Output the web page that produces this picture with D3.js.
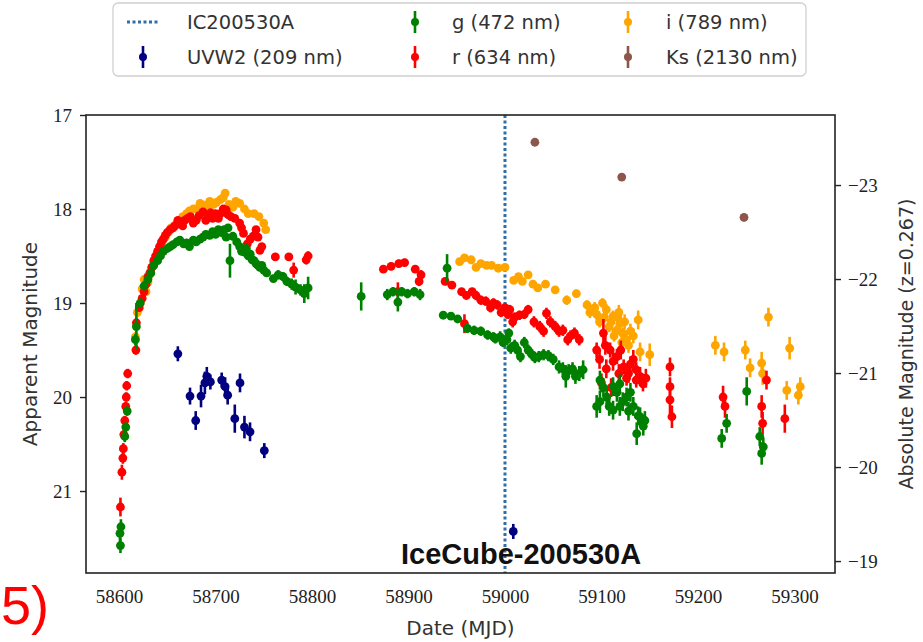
<!DOCTYPE html>
<html><head><meta charset="utf-8">
<script src="https://cdn.jsdelivr.net/npm/d3@7"></script>
<style>body{margin:0;background:#fff}svg{display:block}</style>
</head><body><svg id="c" width="923" height="642"></svg>
<script>
// ---------- data: [MJD, apparent magnitude, error] ----------
const uvw2 = [[58661,19.54,0.08],[58673.6,19.99,0.09],[58679.5,20.25,0.1],[58685,19.99,0.12],[58689,19.85,0.12],
 [58691,19.78,0.1],[58694.7,19.84,0.08],[58706.4,19.82,0.08],[58710,19.89,0.1],[58712.6,19.98,0.1],[58720,20.23,0.15],
 [58725.4,19.85,0.1],[58730,20.32,0.12],[58735.8,20.37,0.1],[58750.6,20.57,0.08],[59008.6,21.43,0.08]];
const gBand = [[58601,21.45,0.1],[58601.5,21.58,0.08],[58602,21.38,0.08],[58606,20.42,0.06],[58607,20.32,0.05],[58608.5,20.15,0.05],
 [58617,19.39,0.06],[58618,19.25,0.25],[58633,18.68,0.03],[58640,18.55,0.03],[58646,18.45,0.03],[58653,18.4,0.03],[58660,18.35,0.03],
 [58667,18.37,0.03],[58673,18.4,0.03],[58680,18.35,0.03],[58687,18.3,0.03],[58694,18.28,0.03],[58700,18.27,0.03],[58706,18.25,0.03],
 [58713,18.2,0.03],[58718,18.29,0.03],[58715,18.55,0.18],[58725,18.4,0.03],[58730,18.46,0.03],[58734,18.5,0.03],[58738,18.54,0.03],
 [58742,18.58,0.03],[58746,18.62,0.03],[58750,18.65,0.03],[58760,18.74,0.04],[58765,18.7,0.05],[58770,18.72,0.05],[58774,18.77,0.05],
 [58779,18.8,0.06],[58783,18.83,0.08],[58788,18.86,0.06],[58792,18.9,0.1],[58796,18.84,0.12],
 [58622,19.0,0.05],[58626,18.82,0.04],[58630,18.75,0.03],[58636,18.6,0.03],[58643,18.5,0.03],[58650,18.42,0.03],[58656,18.38,0.03],
 [58663,18.33,0.03],[58670,18.36,0.03],[58677,18.33,0.03],[58684,18.32,0.03],[58690,18.27,0.03],[58697,18.24,0.03],[58703,18.22,0.03],
 [58709,18.22,0.03],[58711,18.3,0.03],[58722,18.35,0.03],[58727,18.45,0.03],[58732,18.42,0.03],[58736,18.48,0.03],[58740,18.55,0.03],
 [58744,18.6,0.03],[58748,18.6,0.03],[58753,18.68,0.03],
 [58851,18.93,0.15],[58878,18.91,0.06],[58884,18.88,0.05],[58889,18.99,0.1],[58893,18.88,0.05],[58899,18.9,0.05],[58906,18.88,0.05],
 [58912,18.91,0.06],[58940,18.63,0.15],[58936,19.13,0.04],[58944,19.14,0.04],[58951,19.17,0.04],[58961,19.27,0.05],[58968,19.29,0.05],
 [58975,19.3,0.05],[58982,19.34,0.05],[58988,19.36,0.05],[58995,19.36,0.06],[59002,19.39,0.06],[59010,19.45,0.06],[59016,19.57,0.06],
 [59020,19.42,0.06],[59028,19.55,0.06],[59035,19.57,0.06],[59045,19.56,0.06],[59056,19.68,0.07],[59063,19.78,0.12],[59070,19.7,0.07],
 [59077,19.75,0.08],[58990,19.38,0.05],[58998,19.42,0.05],[59004,19.32,0.05],[59006,19.48,0.06],[59013,19.5,0.06],[59024,19.5,0.06],
 [59031,19.58,0.06],[59040,19.55,0.06],[59050,19.6,0.06],[59060,19.7,0.07],[59066,19.72,0.07],[59073,19.78,0.08],
 [59081,19.71,0.1],[59098.4,19.82,0.1],[59098.4,20.05,0.12],[59095,20.1,0.12],[59105.4,20.0,0.1],[59112,19.89,0.1],
 [59112,20.14,0.1],[59119,20.1,0.1],[59126,20.0,0.1],[59133,20.1,0.1],[59136.5,20.39,0.12],[59143.3,20.31,0.1],[59140,20.21,0.1],
 [59119,19.86,0.1],[59102,19.9,0.1],[59108,20.1,0.1],[59116,19.95,0.1],[59122,20.05,0.1],[59128,20.15,0.1],[59130,19.95,0.1],
 [59138,20.2,0.1],[59145,20.25,0.1],
 [59224.6,20.44,0.1],[59229.7,20.28,0.1],[59250.5,19.94,0.15],[59264,20.42,0.1],[59267.7,20.53,0.1],[59266,20.6,0.12]];
const rBand = [[58601.5,21.17,0.1],[58603,20.8,0.08],[58604,20.65,0.06],[58604.5,20.55,0.06],[58605,20.4,0.05],[58606,20.25,0.05],
 [58607,20.1,0.05],[58607.5,20.0,0.05],[58608,19.88,0.05],[58609,19.75,0.05],[58617.5,19.5,0.05],[58618,19.21,0.05],
 [58624,18.95,0.03],[58628,18.8,0.03],[58632,18.68,0.03],[58636,18.55,0.03],[58640,18.45,0.03],[58644,18.35,0.03],[58648,18.28,0.03],
 [58653,18.22,0.03],[58658,18.18,0.03],[58663,18.15,0.03],[58668,18.12,0.03],[58674,18.08,0.03],[58680,18.12,0.03],[58687,18.03,0.03],
 [58692,18.08,0.03],[58697,18.1,0.03],[58700,18.05,0.03],[58705,18.05,0.03],[58711,18.01,0.03],[58716,18.08,0.03],[58725,18.15,0.03],
 [58729,18.26,0.03],[58733,18.37,0.03],[58739,18.29,0.03],[58742,18.22,0.03],[58746,18.44,0.03],
 [58621,19.05,0.04],[58626,18.88,0.03],[58630,18.72,0.03],[58634,18.62,0.03],[58638,18.5,0.03],[58642,18.4,0.03],[58646,18.32,0.03],
 [58650,18.25,0.03],[58656,18.2,0.03],[58661,18.12,0.03],[58666,18.18,0.03],[58671,18.1,0.03],[58677,18.15,0.03],[58683,18.07,0.03],
 [58690,18.12,0.03],[58695,18.04,0.03],[58703,18.1,0.03],[58708,18.0,0.03],[58713,18.06,0.03],[58720,18.1,0.03],[58727,18.2,0.03],
 [58736,18.32,0.03],[58744,18.3,0.03],[58748,18.4,0.03],
 [58762,18.51,0.04],[58776,18.51,0.04],[58781,18.65,0.08],[58794,18.54,0.05],[58796,18.5,0.05],
 [58874,18.64,0.04],[58882,18.61,0.04],[58890,18.58,0.04],[58896,18.57,0.04],[58907,18.64,0.04],[58913,18.7,0.05],[58911,18.77,0.05],
 [58889,18.88,0.1],[58938,18.77,0.04],[58945,18.81,0.04],[58955,18.88,0.04],[58966,18.88,0.04],[58975,18.97,0.05],[58988,19.0,0.05],
 [58958,19.22,0.1],[59000,19.05,0.05],[59005,19.07,0.05],[59010,19.15,0.05],[59015,19.13,0.05],[59024,19.07,0.05],[59036,19.25,0.06],
 [59043,19.11,0.06],[59052,19.25,0.06],[59060,19.29,0.06],[59065,19.39,0.06],[59072,19.32,0.06],[59077,19.39,0.06],
 [58960,18.92,0.04],[58970,18.92,0.05],[58980,18.98,0.05],[58985,19.05,0.05],[58992,19.02,0.05],[58996,19.1,0.05],[59003,19.12,0.05],
 [59008,19.2,0.06],[59020,19.12,0.05],[59030,19.2,0.06],[59040,19.3,0.06],[59047,19.2,0.06],[59056,19.3,0.06],[59068,19.35,0.06],
 [59095,19.5,0.08],[59102,19.32,0.15],[59109,19.5,0.08],[59116,19.57,0.08],[59123,19.68,0.08],[59130,19.65,0.08],[59136,19.71,0.08],
 [59143,19.86,0.08],[59105,19.7,0.1],[59126,19.8,0.08],[59136,19.82,0.08],
 [59098,19.6,0.1],[59104,19.45,0.1],[59112,19.62,0.1],[59118,19.75,0.1],[59120,19.5,0.1],[59128,19.75,0.1],[59133,19.6,0.1],
 [59140,19.78,0.1],[59146,19.8,0.1],[59100,19.85,0.1],[59110,19.9,0.1],
 [59171,19.68,0.1],[59171,19.89,0.1],[59171,20.03,0.15],[59173,20.21,0.12],
 [59226,20.0,0.12],[59228,20.1,0.12],[59266,20.1,0.12],[59267,20.28,0.12],[59271,19.82,0.1],[59290,20.23,0.15]];
const iBand = [[58617,19.36,0.05],[58619,19.1,0.05],[58628,18.88,0.03],[58632,18.7,0.03],[58636,18.58,0.03],[58641,18.45,0.03],
 [58646,18.32,0.03],[58651,18.25,0.03],[58657,18.18,0.03],[58663,18.12,0.03],[58670,18.05,0.03],[58677,18.0,0.03],[58684,17.94,0.03],
 [58691,17.98,0.03],[58698,17.95,0.03],[58705,17.9,0.03],[58710,17.83,0.03],[58718,17.98,0.03],[58725,17.94,0.03],[58734,18.05,0.03],
 [58745,18.08,0.03],[58750,18.15,0.03],[58752,18.22,0.03],
 [58622,19.0,0.04],[58624,18.85,0.04],[58626,18.75,0.03],[58630,18.78,0.03],[58634,18.62,0.03],[58638,18.5,0.03],[58643,18.4,0.03],
 [58648,18.3,0.03],[58654,18.2,0.03],[58660,18.15,0.03],[58666,18.08,0.03],[58673,18.02,0.03],[58680,18.0,0.03],[58688,17.96,0.03],
 [58694,17.92,0.03],[58701,17.93,0.03],[58708,17.88,0.03],[58714,17.95,0.03],[58721,17.92,0.03],[58730,18.0,0.03],[58740,18.05,0.03],
 [58953,18.56,0.03],[58958,18.52,0.03],[58965,18.54,0.03],[58970,18.62,0.03],[58975,18.58,0.03],[58981,18.6,0.03],[58986,18.6,0.03],
 [58993,18.63,0.03],[59000,18.62,0.03],[59009,18.76,0.03],[59014,18.72,0.03],[59018,18.77,0.03],[59024,18.7,0.03],[59029,18.8,0.03],
 [59034,18.84,0.03],[59042,18.8,0.03],[59052,18.86,0.04],[59064,18.97,0.05],[59074,18.9,0.04],[59085,19.02,0.05],[59091,19.07,0.05],
 [59101,19.0,0.05],[59105,19.07,0.06],[59112,19.14,0.06],[59119,19.22,0.06],[59122,19.32,0.06],[59126,19.39,0.08],[59138,19.18,0.1],
 [59140,19.52,0.1],[59150,19.55,0.12],[59095,19.12,0.06],[59098,19.2,0.06],[59108,19.25,0.06],[59115,19.3,0.06],[59118,19.1,0.08],
 [59130,19.3,0.08],[59088,19.1,0.06],[59093,19.05,0.06],[59103,19.15,0.06],[59110,19.2,0.06],[59113,19.35,0.06],[59117,19.15,0.06],
 [59121,19.42,0.08],[59124,19.2,0.08],[59128,19.45,0.08],[59133,19.35,0.08],
 [59218,19.45,0.1],[59227,19.52,0.1],[59249,19.5,0.1],[59254,19.69,0.1],[59266,19.64,0.12],[59267,19.75,0.12],
 [59273,19.15,0.1],[59292,19.93,0.1],[59295,19.48,0.12],[59306,19.89,0.1],[59304,19.98,0.1]];
const ksBand = [[59031,17.29,0.04],[59121,17.66,0.04],[59247.7,18.09,0.04]];
const neutrinoMJD = 59000;
const distMod = 40.745;
const xTicks = [58600,58700,58800,58900,59000,59100,59200,59300];
const yTicks = [17,18,19,20,21];
const yAbsTicks = [-23,-22,-21,-20,-19];
const legendItems = [
 {label:"IC200530A", type:"line", color:"#2f6fa5"},
 {label:"UVW2 (209 nm)", type:"err", color:"#000080"},
 {label:"g (472 nm)", type:"err", color:"#008000"},
 {label:"r (634 nm)", type:"err", color:"#ff0000"},
 {label:"i (789 nm)", type:"err", color:"#ffa500"},
 {label:"Ks (2130 nm)", type:"err", color:"#8c564b"}];

// ---------- layout ----------
const L=86, R=835, T=115, B=573;
const svg = d3.select("#c");
const x = d3.scaleLinear().domain([58565.8, 59342]).range([L, R]);
const y = d3.scaleLinear().domain([17, 21.872]).range([T, B]);
const yAbs = d3.scaleLinear().domain([17-distMod, 21.872-distMod]).range([T, B]);
const serif = "'Liberation Serif','DejaVu Serif',serif";
const sans = "'DejaVu Sans','Liberation Sans',sans-serif";

// vertical neutrino line
svg.append("line").attr("x1",x(neutrinoMJD)).attr("x2",x(neutrinoMJD)).attr("y1",T).attr("y2",B)
  .attr("stroke","#2f6fa5").attr("stroke-width",3).attr("stroke-dasharray","3,2.5");

function drawBand(data,color){
  const g = svg.append("g");
  g.selectAll("line").data(data).join("line")
    .attr("x1",d=>x(d[0])).attr("x2",d=>x(d[0]))
    .attr("y1",d=>y(d[1]-d[2])).attr("y2",d=>y(d[1]+d[2]))
    .attr("stroke",color).attr("stroke-width",2.6);
  g.selectAll("circle").data(data).join("circle")
    .attr("cx",d=>x(d[0])).attr("cy",d=>y(d[1])).attr("r",4.4).attr("fill",color);
}
drawBand(iBand,"#ffa500");
drawBand(rBand,"#ff0000");
drawBand(gBand,"#008000");
drawBand(uvw2,"#000080");
drawBand(ksBand,"#8c564b");

// frame
svg.append("rect").attr("x",L).attr("y",T).attr("width",R-L).attr("height",B-T)
  .attr("fill","none").attr("stroke","#222").attr("stroke-width",1.6);

// axes
const ax = svg.append("g").attr("transform",`translate(${L},0)`)
  .call(d3.axisLeft(y).tickValues(yTicks).tickSize(6).tickPadding(8).tickFormat(d3.format("d")));
const bx = svg.append("g").attr("transform",`translate(0,${B})`)
  .call(d3.axisBottom(x).tickValues(xTicks).tickSize(0).tickPadding(17).tickFormat(d3.format("d")));
const rx = svg.append("g").attr("transform",`translate(${R},0)`)
  .call(d3.axisRight(yAbs).tickValues(yAbsTicks).tickSize(6).tickPadding(7).tickFormat(d=>"\u2212"+Math.abs(d)));
[ax,bx,rx].forEach(a=>{
  a.select(".domain").remove();
  a.selectAll(".tick line").attr("stroke","#222").attr("stroke-width",1.4);
  a.selectAll("text").attr("font-family",serif).attr("font-size",19).attr("fill","#222");
});

// axis titles
svg.append("text").attr("x",(L+R)/2).attr("y",635).attr("text-anchor","middle")
  .attr("font-family",sans).attr("font-size",20).attr("fill","#333").text("Date (MJD)");
svg.append("text").attr("transform",`translate(37,${(T+B)/2}) rotate(-90)`).attr("text-anchor","middle")
  .attr("font-family",sans).attr("font-size",20).attr("fill","#333").text("Apparent Magnitude");
svg.append("text").attr("transform",`translate(913,${(T+B)/2}) rotate(-90)`).attr("text-anchor","middle")
  .attr("font-family",sans).attr("font-size",19).attr("fill","#333").text("Absolute Magnitude (z=0.267)");

// annotation
svg.append("text").attr("x",401).attr("y",564).attr("font-family","'Liberation Sans',Arial,sans-serif")
  .attr("font-weight","bold").attr("font-size",29).attr("fill","#111").text("IceCube-200530A");

// red panel marker
svg.append("text").attr("x",1).attr("y",624)
  .attr("font-family","'Liberation Sans',Arial,sans-serif").attr("font-size",54).attr("fill","#ff0000").text("5)");

// legend
const lg = svg.append("g");
lg.append("rect").attr("x",113).attr("y",3).attr("width",693).attr("height",73).attr("rx",5)
  .attr("fill","#fff").attr("stroke","#d0d0d0").attr("stroke-width",1.3);
const colX = [143, 415, 628], textX = [187, 452, 666], rowY = [22, 57];
legendItems.forEach((it,i)=>{
  const c = Math.floor(i/2), r = i%2;
  const cx = colX[c], cy = rowY[r];
  if(it.type==="line"){
    lg.append("line").attr("x1",cx-16).attr("x2",cx+16).attr("y1",cy).attr("y2",cy)
      .attr("stroke",it.color).attr("stroke-width",3).attr("stroke-dasharray","3,2.5");
  } else {
    lg.append("line").attr("x1",cx).attr("x2",cx).attr("y1",cy-11).attr("y2",cy+11)
      .attr("stroke",it.color).attr("stroke-width",2.6);
    lg.append("circle").attr("cx",cx).attr("cy",cy).attr("r",4).attr("fill",it.color);
  }
  lg.append("text").attr("x",textX[c]).attr("y",cy+7).attr("font-family",sans).attr("font-size",19.5)
    .attr("fill","#333").text(it.label);
});
</script></body></html>
